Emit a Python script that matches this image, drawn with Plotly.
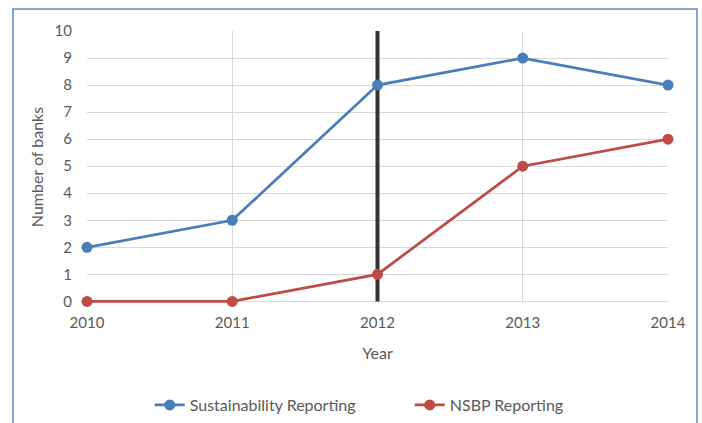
import plotly.graph_objects as go

years = [2010, 2011, 2012, 2013, 2014]
sustainability = [2, 3, 8, 9, 8]
nsbp = [0, 0, 1, 5, 6]
marker_year = 2012
y_ticks_range = [0, 10]

FONT = "Lato"
TXT = "#595959"

fig = go.Figure()
fig.add_trace(go.Scatter(x=[marker_year, marker_year], y=y_ticks_range, mode="lines",
                         line=dict(color="#333333", width=4), showlegend=False,
                         hoverinfo="skip"))
fig.add_trace(go.Scatter(x=years, y=sustainability, mode="lines+markers",
                         name="Sustainability Reporting",
                         line=dict(color="#4a7ebb", width=2.75),
                         marker=dict(color="#4a7ebb", size=11), cliponaxis=False))
fig.add_trace(go.Scatter(x=years, y=nsbp, mode="lines+markers",
                         name="NSBP Reporting",
                         line=dict(color="#be4b48", width=2.75),
                         marker=dict(color="#be4b48", size=11), cliponaxis=False))

fig.add_shape(type="rect", xref="paper", yref="paper",
              x0=-0.1274, x1=1.0499, y0=-0.5, y1=1.081,
              line=dict(color="#5b8bc0", width=1.5), fillcolor="rgba(0,0,0,0)",
              layer="below")

fig.update_layout(
    width=702, height=423,
    margin=dict(l=87, r=34, t=31, b=120, autoexpand=False),
    paper_bgcolor="white", plot_bgcolor="white",
    font=dict(family=FONT, size=15, color=TXT),
    showlegend=True,
    legend=dict(orientation="h", x=0.108, xanchor="left", y=-0.375, yanchor="middle",
                font=dict(family=FONT, size=16, color=TXT),
                entrywidth=215, entrywidthmode="pixels",
                tracegroupgap=0),
    xaxis=dict(range=[2010, 2014], tickmode="array", tickvals=years,
               ticktext=[str(y) for y in years], showgrid=True,
               gridcolor="#d9d9d9", gridwidth=1, zeroline=False, showline=False,
               ticks="", ticklabelstandoff=9, automargin=False,
               title=dict(text="Year", standoff=17, font=dict(size=16, color=TXT))),
    yaxis=dict(range=[y_ticks_range[0] - 0.06, y_ticks_range[1]],
               tickmode="linear", tick0=0, dtick=1, showgrid=True, gridcolor="#d9d9d9",
               gridwidth=1, zeroline=False, showline=False, ticks="",
               ticklabelstandoff=14, automargin=False,
               title=dict(text="Number of banks", standoff=6,
                          font=dict(size=16, color=TXT))),
)

fig.write_html("out.html", config={"displayModeBar": False},
               post_script="document.body.style.margin='0px';")
